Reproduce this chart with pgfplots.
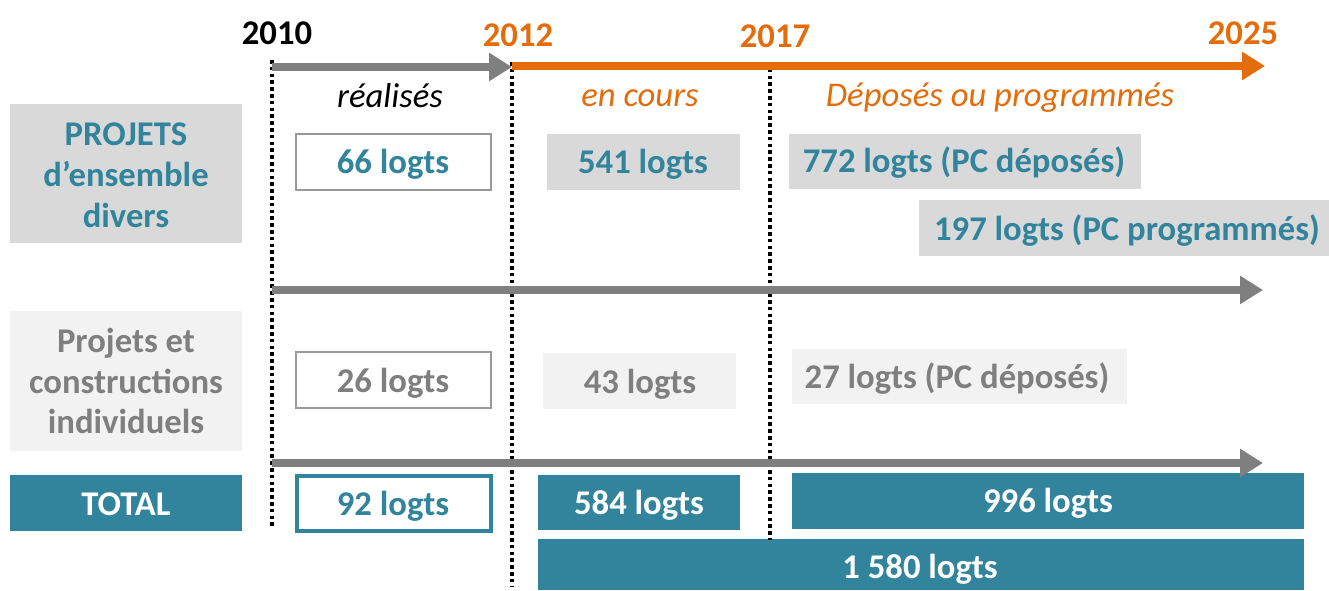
\documentclass[border=0pt]{standalone}
\usepackage{fontspec}
\setmainfont{Carlito}
\usepackage{pgfplots}
\pgfplotsset{compat=1.18}
\usetikzlibrary{arrows.meta}
\definecolor{tealc}{HTML}{31849B}
\definecolor{orng}{HTML}{E46C0A}
\definecolor{grayA}{HTML}{7F7F7F}
\definecolor{boxg}{HTML}{D9D9D9}
\definecolor{boxl}{HTML}{F2F2F2}
\newcommand{\bt}{\fontsize{17.4}{20.5}\selectfont\bfseries}
\newcommand{\itf}{\fontsize{17.4}{20.5}\selectfont\itshape}
\newcommand{\rbox}[5]{\addplot[#5] coordinates {(#1,#2) (#3,#2) (#3,#4) (#1,#4)} -- cycle;}
\begin{document}
\begin{tikzpicture}
\begin{axis}[x=0.5bp, y=0.5bp, y dir=reverse,
  xmin=0, xmax=1329, ymin=0, ymax=590,
  hide axis, clip=false, no markers,
  every axis plot/.append style={line join=miter}]
\addplot[draw=none] coordinates {(0,0) (1329,590)};
% left category boxes
\rbox{10}{104}{242}{243}{fill=boxg, draw=none}
\rbox{10}{311}{242}{451}{fill=boxl, draw=none}
\rbox{10}{475}{242}{531}{fill=tealc, draw=none}
% row 1 boxes
\rbox{296}{134}{491}{190}{fill=white, draw=grayA!80, line width=1bp}
\rbox{547}{134}{740}{190}{fill=boxg, draw=none}
\rbox{789}{134}{1141}{189}{fill=boxg, draw=none}
\rbox{919}{200}{1329}{256}{fill=boxg, draw=none}
% row 2 boxes
\rbox{296}{352}{491}{408}{fill=white, draw=grayA!80, line width=1bp}
\rbox{543}{353}{736}{409}{fill=boxl, draw=none}
\rbox{792}{349}{1127}{404}{fill=boxl, draw=none}
% totals
\rbox{297}{476}{491}{531}{fill=white, draw=tealc, line width=2bp}
\rbox{538}{475}{740}{530}{fill=tealc, draw=none}
\rbox{792}{473}{1304}{529}{fill=tealc, draw=none}
\rbox{538}{539}{1304}{590}{fill=tealc, draw=none}
% dotted lines
\addplot[black, line width=2.2bp, dash pattern=on 1.8bp off 1.6bp] coordinates {(272,60) (272,528)};
\addplot[black, line width=2.2bp, dash pattern=on 1.8bp off 1.6bp] coordinates {(512,62) (512,586)};
\addplot[black, line width=2.2bp, dash pattern=on 1.8bp off 1.6bp] coordinates {(770,62) (770,540)};
% arrows
\addplot[grayA, line width=4bp, -{Triangle[length=11.5bp,width=13.5bp]}] coordinates {(272,67) (512,67)};
\addplot[orng, line width=4bp, -{Triangle[length=11.5bp,width=13.5bp]}] coordinates {(512,66) (1265,66)};
\addplot[grayA, line width=4bp, -{Triangle[length=11.5bp,width=13.5bp]}] coordinates {(272,290) (1263,290)};
\addplot[grayA, line width=4bp, -{Triangle[length=11.5bp,width=13.5bp]}] coordinates {(272,463) (1263,463)};
% years
\node[font=\bt, text=black] at (axis cs:277,33) {2010};
\node[font=\bt, text=orng] at (axis cs:518,35) {2012};
\node[font=\bt, text=orng] at (axis cs:775,36) {2017};
\node[font=\bt, text=orng] at (axis cs:1243,33) {2025};
% phase labels
\node[font=\itf, text=black] at (axis cs:390,96) {réalisés};
\node[font=\itf, text=orng] at (axis cs:640,98) {en cours};
\node[font=\itf, text=orng] at (axis cs:1000,98) {Déposés ou programmés};
% categories
\node[font=\bt, text=tealc, align=center] at (axis cs:126,175) {PROJETS\\d’ensemble\\divers};
\node[font=\bt, text=grayA, align=center] at (axis cs:126,381) {Projets et\\constructions\\individuels};
\node[font=\bt, text=white] at (axis cs:126,504) {TOTAL};
% values
\node[font=\bt, text=tealc] at (axis cs:393,164) {66 logts};
\node[font=\bt, text=tealc] at (axis cs:643,164) {541 logts};
\node[font=\bt, text=tealc] at (axis cs:964,163) {772 logts (PC déposés)};
\node[font=\bt, text=tealc] at (axis cs:1127,231) {197 logts (PC programmés)};
\node[font=\bt, text=grayA] at (axis cs:393,383) {26 logts};
\node[font=\bt, text=grayA] at (axis cs:640,384) {43 logts};
\node[font=\bt, text=grayA] at (axis cs:957,379) {27 logts (PC déposés)};
\node[font=\bt, text=tealc] at (axis cs:393,506) {92 logts};
\node[font=\bt, text=white] at (axis cs:639,505) {584 logts};
\node[font=\bt, text=white] at (axis cs:1048,503) {996 logts};
\node[font=\bt, text=white] at (axis cs:920,569) {1 580 logts};
\end{axis}
\end{tikzpicture}
\end{document}
